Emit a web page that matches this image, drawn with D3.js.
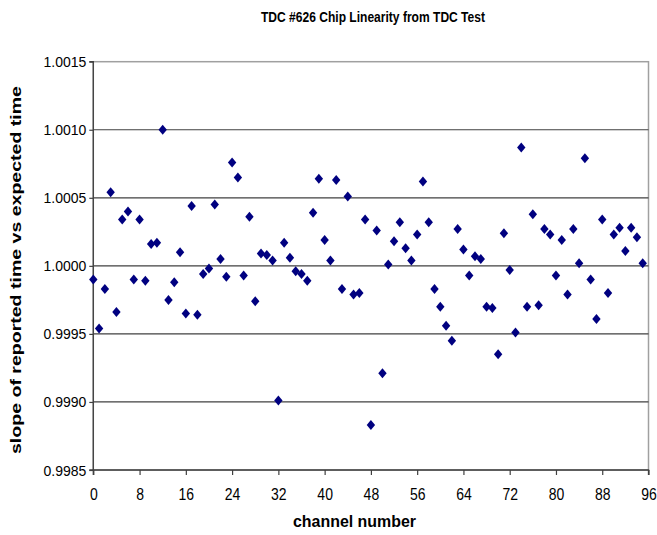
<!DOCTYPE html>
<html><head><meta charset="utf-8">
<script src="https://cdn.jsdelivr.net/npm/d3@7"></script>
<style>body{margin:0;background:#fff}svg{display:block}text{font-family:"Liberation Sans",Arial,sans-serif}</style>
</head><body>
<script>
const channels = d3.range(0, 96);
const slopes = [
0.99990,0.99954,0.99983,1.00054,0.99966,1.00034,1.00040,0.99990,1.00034,0.99989,
1.00016,1.00017,1.00100,0.99975,0.99988,1.00010,0.99965,1.00044,0.99964,0.99994,
0.99998,1.00045,1.00005,0.99992,1.00076,1.00065,0.99993,1.00036,0.99974,1.00009,
1.00008,1.00004,0.99901,1.00017,1.00006,0.99996,0.99994,0.99989,1.00039,1.00064,
1.00019,1.00004,1.00063,0.99983,1.00051,0.99979,0.99980,1.00034,0.99883,1.00026,
0.99921,1.00001,1.00018,1.00032,1.00013,1.00004,1.00023,1.00062,1.00032,0.99983,
0.99970,0.99956,0.99945,1.00027,1.00012,0.99993,1.00007,1.00005,0.99970,0.99969,
0.99935,1.00024,0.99997,0.99951,1.00087,0.99970,1.00038,0.99971,1.00027,1.00023,
0.99993,1.00019,0.99979,1.00027,1.00002,1.00079,0.99990,0.99961,1.00034,0.99980,
1.00023,1.00028,1.00011,1.00028,1.00021,1.00002];
const xTicks = [0,8,16,24,32,40,48,56,64,72,80,88,96];
const yTicks = [0.9985,0.9990,0.9995,1.0000,1.0005,1.0010,1.0015];
const title = "TDC #626 Chip Linearity from TDC Test";
const xLabel = "channel number";
const yLabel = "slope of reported time vs expected time";

const W = 657, H = 535;
const L = 93.3, R = 648.5, T = 61.7, B = 470;
const FONT = '"Liberation Sans",Arial,sans-serif';
const svg = d3.select("body").append("svg").attr("width", W).attr("height", H);
const x = d3.scaleLinear().domain([0, 96]).range([L, R]);
const y = d3.scaleLinear().domain([0.9985, 1.0015]).range([B, T]);

// plot border (top/right gray)
svg.append("rect").attr("x", L).attr("y", T).attr("width", R - L).attr("height", B - T)
  .attr("fill", "none").attr("stroke", "#a0a0a0").attr("stroke-width", 1.5);

// gridlines
svg.append("g").selectAll("line").data(yTicks.slice(1, -1)).join("line")
  .attr("x1", L).attr("x2", R).attr("y1", d => y(d)).attr("y2", d => y(d))
  .attr("stroke", "#404040").attr("stroke-width", 1.2);

// axes
const yAxis = d3.axisLeft(y).tickValues(yTicks).tickFormat(d3.format(".4f")).tickSize(4).tickPadding(3);
const gy = svg.append("g").attr("transform", `translate(${L},0)`).call(yAxis);
const xAxis = d3.axisBottom(x).tickValues(xTicks).tickFormat(d3.format("d")).tickSize(5).tickPadding(0);
const gx = svg.append("g").attr("transform", `translate(0,${B})`).call(xAxis);
[gy, gx].forEach(g => {
  g.select(".domain").attr("stroke", "#404040").attr("stroke-width", 1.3);
  g.selectAll(".tick line").attr("stroke", "#404040").attr("stroke-width", 1.2);
  g.selectAll("text").attr("font-size", 14).attr("fill", "#000").attr("font-family", FONT);
});
gy.selectAll(".tick text").attr("dy", "0.36em");
gx.selectAll(".tick text").attr("dy", null).attr("y", 0)
  .attr("transform", "translate(0,30) scale(1,1.2)");
gy.select(".domain").attr("d", `M-4,${T}H0V${B}H-4`);
gx.select(".domain").attr("d", `M${L},5V0H${R}V5`);

// points
const diamond = "M0,-5L4.2,0L0,5L-4.2,0Z";
svg.append("g").selectAll("path").data(channels).join("path")
  .attr("transform", (d, i) => `translate(${x(d)},${y(slopes[i])})`)
  .attr("d", diamond).attr("fill", "#000080");

// texts
svg.append("text").attr("x", 373).attr("y", 22).attr("text-anchor", "middle")
  .attr("font-size", 15).attr("font-weight", "bold")
  .attr("textLength", 224).attr("lengthAdjust", "spacingAndGlyphs").text(title);
svg.append("text").attr("x", 354.5).attr("y", 527).attr("text-anchor", "middle")
  .attr("font-size", 16).attr("font-weight", "bold")
  .attr("textLength", 123).attr("lengthAdjust", "spacingAndGlyphs").text(xLabel);
svg.append("text").attr("transform", `translate(21,270) rotate(-90)`).attr("text-anchor", "middle")
  .attr("font-size", 15).attr("font-weight", "bold")
  .attr("textLength", 368).attr("lengthAdjust", "spacingAndGlyphs").text(yLabel);
</script>
</body></html>
